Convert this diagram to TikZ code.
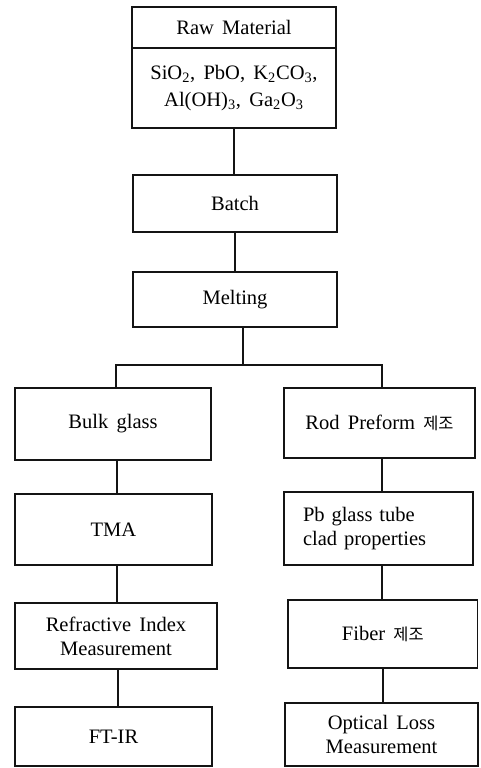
\documentclass[tikz,border=0pt]{standalone}
\usepackage{fontspec}
\setmainfont[WordSpace=1.6]{Liberation Serif}
\newfontfamily\kofont[Scale=0.8]{Noto Sans CJK KR}
\usepackage{tikz}
\usetikzlibrary{positioning, calc}
\definecolor{mydark}{RGB}{20,20,20}
\tikzset{
  block/.style={rectangle, draw=mydark, fill=white,
    align=center, inner sep=2pt, line width=1pt,
    font=\fontsize{14.6}{17}\selectfont},
  link/.style={line width=0.8pt, color=mydark}
}

\begin{document}
\begin{tikzpicture}
  \useasboundingbox (0,0) rectangle (12,19.2);

  % Raw material (two compartments)
  \node[block, minimum width=5.1cm, minimum height=1.025cm] (rawtitle) at (5.85,18.5125) {Raw Material};
  \node[block, minimum width=5.1cm, minimum height=2.0cm, font=\fontsize{14.6}{19}\selectfont] (rawlist) at (5.85,17.0)
    {SiO\textsubscript{2}, PbO, K\textsubscript{2}CO\textsubscript{3},\\
     Al(OH)\textsubscript{3}, Ga\textsubscript{2}O\textsubscript{3}};

  % Main chain
  \node[block, minimum width=5.1cm, minimum height=1.425cm] (batch) at (5.875,14.1125) {Batch};
  \node[block, minimum width=5.1cm, minimum height=1.375cm] (melt) at (5.875,11.7125) {Melting};
  \coordinate (fork) at (6.075,10.075);

  % Left branch
  \node[block, minimum width=4.9cm, minimum height=1.8cm] (bulk) at (2.825,8.6) {Bulk glass};
  \node[block, minimum width=4.925cm, minimum height=1.775cm] (tma) at (2.8375,5.9625) {TMA};
  \node[block, minimum width=5.05cm, minimum height=1.65cm] (refr) at (2.9,3.3) {Refractive Index\\Measurement};
  \node[block, minimum width=4.925cm, minimum height=1.475cm] (ftir) at (2.8375,0.7875) {FT-IR};

  % Right branch
  \node[block, minimum width=4.775cm, minimum height=1.75cm] (rod) at (9.4875,8.625) {Rod Preform {\kofont 제조}};
  \node[block, align=left, text width=3.775cm, inner xsep=0.475cm, minimum height=1.825cm] (pb) at (9.4625,5.9875)
    {Pb glass tube\\clad properties};
  \node[block, minimum width=4.74cm, minimum height=1.7cm] (fiber) at (9.57,3.35) {Fiber {\kofont 제조}};
  \node[block, minimum width=4.825cm, minimum height=1.575cm] (optic) at (9.5375,0.8375) {Optical Loss\\Measurement};

  % Connectors
  \draw[link] (rawlist.south) -- (rawlist.south |- batch.north);
  \draw[link] (batch.south) -- (batch.south |- melt.north);
  \draw[link] (melt.south -| fork) -- (fork);
  \draw[link] (bulk.north -| 2.9,0) |- (fork) -| (rod.north -| 9.55,0);
  \draw[link] (bulk.south -| 2.925,0) -- (tma.north -| 2.925,0);
  \draw[link] (tma.south -| 2.925,0) -- (refr.north -| 2.925,0);
  \draw[link] (refr.south -| 2.95,0) -- (ftir.north -| 2.95,0);
  \draw[link] (rod.south -| 9.55,0) -- (pb.north -| 9.55,0);
  \draw[link] (pb.south -| 9.55,0) -- (fiber.north -| 9.55,0);
  \draw[link] (fiber.south -| 9.575,0) -- (optic.north -| 9.575,0);
\end{tikzpicture}
\end{document}
